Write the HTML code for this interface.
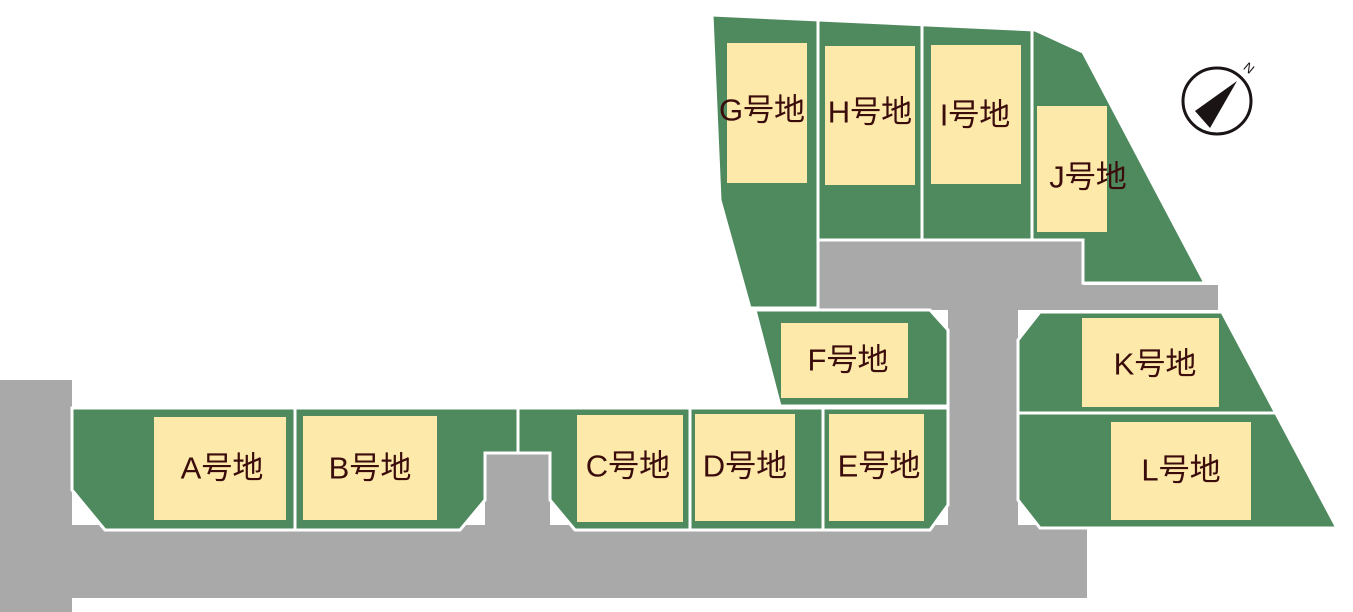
<!DOCTYPE html>
<html><head><meta charset="utf-8"><style>
html,body{margin:0;padding:0;background:#fff;width:1353px;height:612px;overflow:hidden}
svg text{font-family:"Liberation Sans","Noto Sans CJK JP",sans-serif;font-size:31px;fill:#3a0c0c;text-anchor:middle;dominant-baseline:central}
</style></head><body>
<svg width="1353" height="612" viewBox="0 0 1353 612" xmlns="http://www.w3.org/2000/svg">
<g fill="#a9a9a9">
<rect x="0" y="380" width="72" height="232"/>
<rect x="72" y="525" width="1015" height="73"/>
<rect x="948" y="240" width="70" height="300"/>
<rect x="818" y="240" width="265" height="70"/>
<rect x="1083" y="285" width="135" height="25"/>
<rect x="485" y="453" width="65" height="80"/>
</g>
<g fill="#4f8a5f" stroke="#fff" stroke-width="3">
<polygon points="712,15 1035,30 1083,52 1205,283 1083,283 1083,240 818,240 818,308 750,308 720,200"/>
<polygon points="755,310 930,310 948,330 948,406 780,406"/>
<polygon points="1040,312 1222,312 1337,528 1040,528 1018,500 1018,340"/>
<polygon points="72,408 948,408 948,505 930,530 575,530 550,500 550,453 485,453 485,500 460,530 105,530 72,490"/>
</g>
<g stroke="#fff" stroke-width="3">
<line x1="818" y1="17" x2="818" y2="240"/>
<line x1="922" y1="22" x2="922" y2="240"/>
<line x1="1032" y1="30" x2="1032" y2="240"/>
<line x1="1018" y1="413" x2="1275" y2="413"/>
<line x1="295" y1="408" x2="295" y2="530"/>
<line x1="518" y1="408" x2="518" y2="453"/>
<line x1="690" y1="408" x2="690" y2="530"/>
<line x1="823" y1="408" x2="823" y2="530"/>
</g>
<g fill="#fde9a9">
<rect x="727" y="43" width="80" height="140"/>
<rect x="825" y="46" width="90" height="139"/>
<rect x="931" y="45" width="90" height="139"/>
<rect x="1037" y="106" width="70" height="126"/>
<rect x="781" y="323" width="127" height="75"/>
<rect x="1082" y="318" width="137" height="89"/>
<rect x="1111" y="422" width="140" height="98"/>
<rect x="154" y="417" width="132" height="103"/>
<rect x="303" y="416" width="134" height="104"/>
<rect x="577" y="415" width="106" height="107"/>
<rect x="695" y="414" width="100" height="107"/>
<rect x="829" y="414" width="95" height="107"/>
</g>
<text x="762" y="110">G号地</text>
<text x="870" y="112">H号地</text>
<text x="975" y="115">I号地</text>
<text x="1088" y="177">J号地</text>
<text x="848" y="360">F号地</text>
<text x="1155" y="364">K号地</text>
<text x="1181" y="470">L号地</text>
<text x="222" y="468">A号地</text>
<text x="370" y="468">B号地</text>
<text x="628" y="466">C号地</text>
<text x="745" y="466">D号地</text>
<text x="879" y="466">E号地</text>
<ellipse cx="1217" cy="101" rx="34" ry="33" fill="none" stroke="#1a1414" stroke-width="3"/>
<polygon points="1237,81 1195,111 1210,128" fill="#1a1414"/>
<text x="1249" y="68" style="font-size:13px;fill:#1a1414" transform="rotate(40 1249 68)">N</text>
</svg>
</body></html>
